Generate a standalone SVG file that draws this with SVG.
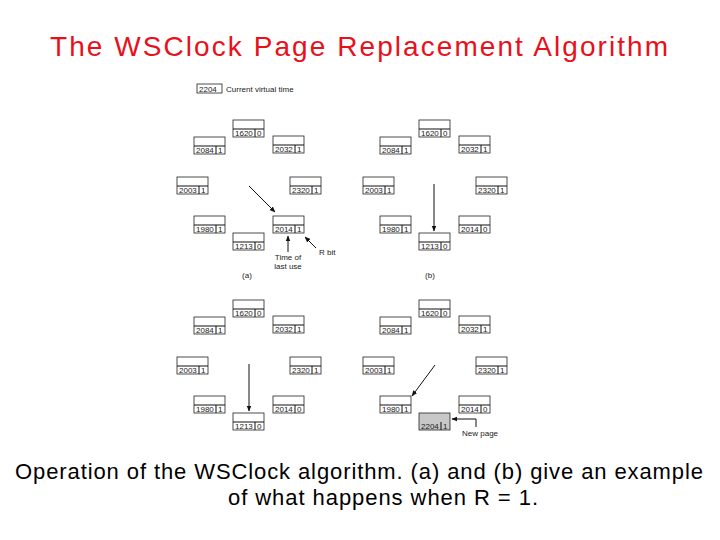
<svg xmlns="http://www.w3.org/2000/svg" width="720" height="540" viewBox="0 0 720 540">
<style>
.b{fill:#fff;stroke:#222;stroke-width:0.8}
.g{fill:#c8c8c8;stroke:#222;stroke-width:0.8}
.t{font-family:"Liberation Sans",Arial,sans-serif;font-size:8px;fill:#222}
.c{stroke:#111;stroke-width:1;fill:none}
</style>
<defs>
<marker id="ah" viewBox="0 0 10 10" refX="9" refY="5" markerWidth="6" markerHeight="6" orient="auto"><path d="M0,1 L10,5 L0,9 z" fill="#111"/></marker>
<g id="box"><rect class="b" x="0" y="0" width="31" height="17"/><line class="c" x1="0" y1="9" x2="31" y2="9" stroke-width="0.8"/><line class="c" x1="22" y1="9" x2="22" y2="17" stroke-width="0.8"/></g>
</defs>
<rect width="720" height="540" fill="#fff"/>
<text x="50" y="56" textLength="618" lengthAdjust="spacing" font-family="Liberation Sans,Arial,sans-serif" font-size="28" fill="#e8101a">The WSClock Page Replacement Algorithm</text>
<g id="vt"><rect class="b" x="197" y="84" width="25" height="9"/><text class="t" x="199" y="92">2204</text><text class="t" x="226" y="92">Current virtual time</text></g>
<g id="panel-a">
<g transform="translate(233,120)"><use href="#box"/><text class="t" x="2" y="16">1620</text><text class="t" x="24" y="16">0</text></g>
<g transform="translate(194,137)"><use href="#box"/><text class="t" x="2" y="16">2084</text><text class="t" x="24" y="16">1</text></g>
<g transform="translate(273,136)"><use href="#box"/><text class="t" x="2" y="16">2032</text><text class="t" x="24" y="16">1</text></g>
<g transform="translate(177,177)"><use href="#box"/><text class="t" x="2" y="16">2003</text><text class="t" x="24" y="16">1</text></g>
<g transform="translate(290,177)"><use href="#box"/><text class="t" x="2" y="16">2320</text><text class="t" x="24" y="16">1</text></g>
<g transform="translate(194,216)"><use href="#box"/><text class="t" x="2" y="16">1980</text><text class="t" x="24" y="16">1</text></g>
<g transform="translate(273,216)"><use href="#box"/><text class="t" x="2" y="16">2014</text><text class="t" x="24" y="16">1</text></g>
<g transform="translate(233,233)"><use href="#box"/><text class="t" x="2" y="16">1213</text><text class="t" x="24" y="16">0</text></g>
<text class="t" x="288" y="260" text-anchor="middle">Time of</text><text class="t" x="288" y="269" text-anchor="middle">last use</text>
<text class="t" x="319" y="255">R bit</text>
<text class="t" x="247" y="278" text-anchor="middle">(a)</text>
</g>
<g id="panel-b">
<g transform="translate(419,120)"><use href="#box"/><text class="t" x="2" y="16">1620</text><text class="t" x="24" y="16">0</text></g>
<g transform="translate(380,137)"><use href="#box"/><text class="t" x="2" y="16">2084</text><text class="t" x="24" y="16">1</text></g>
<g transform="translate(459,136)"><use href="#box"/><text class="t" x="2" y="16">2032</text><text class="t" x="24" y="16">1</text></g>
<g transform="translate(363,177)"><use href="#box"/><text class="t" x="2" y="16">2003</text><text class="t" x="24" y="16">1</text></g>
<g transform="translate(476,177)"><use href="#box"/><text class="t" x="2" y="16">2320</text><text class="t" x="24" y="16">1</text></g>
<g transform="translate(380,216)"><use href="#box"/><text class="t" x="2" y="16">1980</text><text class="t" x="24" y="16">1</text></g>
<g transform="translate(459,216)"><use href="#box"/><text class="t" x="2" y="16">2014</text><text class="t" x="24" y="16">0</text></g>
<g transform="translate(419,233)"><use href="#box"/><text class="t" x="2" y="16">1213</text><text class="t" x="24" y="16">0</text></g>
<text class="t" x="430" y="278" text-anchor="middle">(b)</text>
</g>
<g id="panel-c">
<g transform="translate(233,300)"><use href="#box"/><text class="t" x="2" y="16">1620</text><text class="t" x="24" y="16">0</text></g>
<g transform="translate(194,317)"><use href="#box"/><text class="t" x="2" y="16">2084</text><text class="t" x="24" y="16">1</text></g>
<g transform="translate(273,316)"><use href="#box"/><text class="t" x="2" y="16">2032</text><text class="t" x="24" y="16">1</text></g>
<g transform="translate(177,357)"><use href="#box"/><text class="t" x="2" y="16">2003</text><text class="t" x="24" y="16">1</text></g>
<g transform="translate(290,357)"><use href="#box"/><text class="t" x="2" y="16">2320</text><text class="t" x="24" y="16">1</text></g>
<g transform="translate(194,396)"><use href="#box"/><text class="t" x="2" y="16">1980</text><text class="t" x="24" y="16">1</text></g>
<g transform="translate(273,396)"><use href="#box"/><text class="t" x="2" y="16">2014</text><text class="t" x="24" y="16">0</text></g>
<g transform="translate(233,413)"><use href="#box"/><text class="t" x="2" y="16">1213</text><text class="t" x="24" y="16">0</text></g>
</g>
<g id="panel-d">
<g transform="translate(419,300)"><use href="#box"/><text class="t" x="2" y="16">1620</text><text class="t" x="24" y="16">0</text></g>
<g transform="translate(380,317)"><use href="#box"/><text class="t" x="2" y="16">2084</text><text class="t" x="24" y="16">1</text></g>
<g transform="translate(459,316)"><use href="#box"/><text class="t" x="2" y="16">2032</text><text class="t" x="24" y="16">1</text></g>
<g transform="translate(363,357)"><use href="#box"/><text class="t" x="2" y="16">2003</text><text class="t" x="24" y="16">1</text></g>
<g transform="translate(476,357)"><use href="#box"/><text class="t" x="2" y="16">2320</text><text class="t" x="24" y="16">1</text></g>
<g transform="translate(380,396)"><use href="#box"/><text class="t" x="2" y="16">1980</text><text class="t" x="24" y="16">1</text></g>
<g transform="translate(459,396)"><use href="#box"/><text class="t" x="2" y="16">2014</text><text class="t" x="24" y="16">0</text></g>
<g transform="translate(419,413)"><rect class="g" x="0" y="0" width="31" height="17"/><line class="c" x1="22" y1="9" x2="22" y2="17" stroke-width="0.8"/><text class="t" x="2" y="16">2204</text><text class="t" x="24" y="16">1</text></g>
<text class="t" x="462" y="436">New page</text>
</g>
<g id="connectors">
<line class="c" x1="249" y1="186" x2="275" y2="212" marker-end="url(#ah)"/>
<line class="c" x1="288" y1="252" x2="288" y2="236" marker-end="url(#ah)"/>
<line class="c" x1="316" y1="248" x2="305" y2="237" marker-end="url(#ah)"/>
<line class="c" x1="434" y1="184" x2="434" y2="231" marker-end="url(#ah)"/>
<line class="c" x1="249" y1="364" x2="249" y2="411" marker-end="url(#ah)"/>
<line class="c" x1="435" y1="365" x2="412" y2="396" marker-end="url(#ah)"/>
<path class="c" d="M476,427 L476,419 L452,419" marker-end="url(#ah)"/>
</g>
<text x="15" y="479" textLength="688" lengthAdjust="spacing" font-family="Liberation Sans,Arial,sans-serif" font-size="22" fill="#000">Operation of the WSClock algorithm. (a) and (b) give an example</text>
<text x="228" y="505" textLength="310" lengthAdjust="spacing" font-family="Liberation Sans,Arial,sans-serif" font-size="22" fill="#000">of what happens when R = 1.</text>
</svg>
